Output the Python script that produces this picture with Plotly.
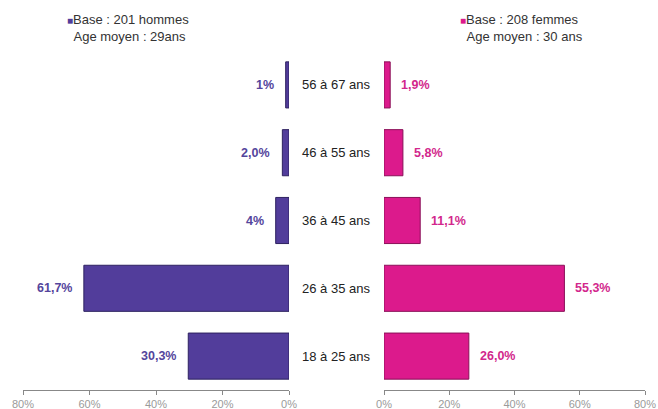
import plotly.graph_objects as go

categories = ["18 à 25 ans", "26 à 35 ans", "36 à 45 ans", "46 à 55 ans", "56 à 67 ans"]
hommes = [30.3, 61.7, 4.0, 2.0, 1.0]
hommes_labels = ["30,3%", "61,7%", "4%", "2,0%", "1%"]
femmes = [26.0, 55.3, 11.1, 5.8, 1.9]
femmes_labels = ["26,0%", "55,3%", "11,1%", "5,8%", "1,9%"]
tick_vals = [0, 20, 40, 60, 80]
tick_text = ["0%", "20%", "40%", "60%", "80%"]

C_H = "#523d9b"
C_H_TXT = "#54459c"
C_F = "#dc1a8c"
C_F_TXT = "#d2278c"

W, H = 658, 409
MT = 51
MB = H - 390
PH = H - MT - MB


def px(p):
    return p / W


fig = go.Figure()
fig.add_trace(go.Bar(y=categories, x=hommes, orientation="h", xaxis="x", yaxis="y",
                     marker=dict(color=C_H, line=dict(color="#2e2260", width=1)),
                     width=0.68, showlegend=False, hoverinfo="skip"))
fig.add_trace(go.Bar(y=categories, x=femmes, orientation="h", xaxis="x2", yaxis="y",
                     marker=dict(color=C_F, line=dict(color="#8a1058", width=1)),
                     width=0.68, showlegend=False, hoverinfo="skip"))

ann = []
for c, v, t in zip(categories, hommes, hommes_labels):
    ann.append(dict(x=v, y=c, xref="x", yref="y", text="<b>%s</b>" % t, showarrow=False,
                    xanchor="right", xshift=-10, font=dict(size=12.5, color=C_H_TXT, family="Arial")))
for c, v, t in zip(categories, femmes, femmes_labels):
    ann.append(dict(x=v, y=c, xref="x2", yref="y", text="<b>%s</b>" % t, showarrow=False,
                    xanchor="left", xshift=9, font=dict(size=12.5, color=C_F_TXT, family="Arial")))
for c in categories:
    ann.append(dict(x=px(336), y=c, xref="paper", yref="y", text=c, showarrow=False,
                    xanchor="center", font=dict(size=13, color="#222", family="Arial")))

top_y = 1 + (MT - 10) / PH
ann.append(dict(x=px(65), y=top_y, xref="paper", yref="paper", xanchor="left", yanchor="top",
                align="left", showarrow=False,
                text="<span style='color:%s;font-size:10px'>■</span>Base : 201 hommes<br>  Age moyen : 29ans" % C_H,
                font=dict(size=13, color="#333", family="Arial")))
ann.append(dict(x=px(458), y=top_y, xref="paper", yref="paper", xanchor="left", yanchor="top",
                align="left", showarrow=False,
                text="<span style='color:%s;font-size:10px'>■</span>Base : 208 femmes<br>  Age moyen : 30 ans" % C_F,
                font=dict(size=13, color="#333", family="Arial")))

axis_common = dict(tickvals=tick_vals, ticktext=tick_text, showgrid=False, zeroline=False,
                   showline=True, linecolor="#888", linewidth=1, ticks="outside", ticklen=4,
                   tickcolor="#888", tickfont=dict(size=11, color="#9a9a9a", family="Arial"),
                   anchor="y", fixedrange=True, automargin=False, ticklabeloverflow="allow")
fig.update_layout(
    template="none",
    width=W, height=H,
    margin=dict(l=0, r=0, t=MT, b=MB, pad=0),
    paper_bgcolor="white", plot_bgcolor="white",
    xaxis=dict(domain=[px(23), px(289)], range=[80, 0], **axis_common),
    xaxis2=dict(domain=[px(384), px(645)], range=[0, 80], **axis_common),
    yaxis=dict(categoryorder="array", categoryarray=categories, range=[-0.5, 4.5],
               showticklabels=False, showgrid=False, zeroline=False, showline=False,
               fixedrange=True, automargin=False),
    annotations=ann,
    bargap=0.32,
)
fig.write_html("out.html", config={"displayModeBar": False},
               post_script="document.body.style.margin='0';document.body.style.overflow='hidden';")
